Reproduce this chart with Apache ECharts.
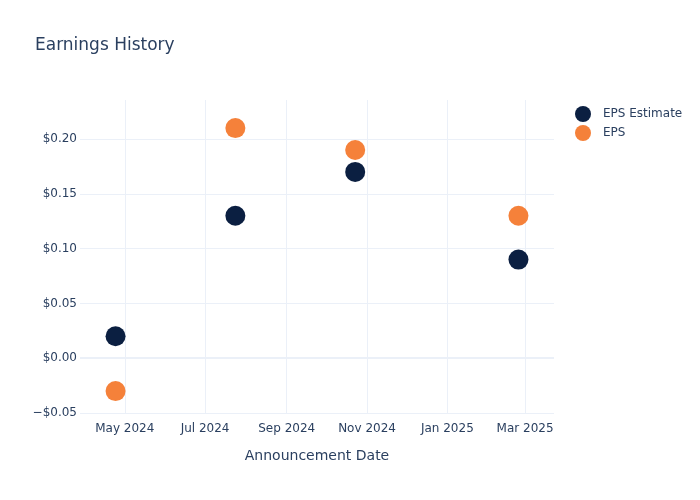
<!DOCTYPE html>
<html>
<head>
<meta charset="utf-8">
<script src="https://cdn.jsdelivr.net/npm/echarts@6/dist/echarts.min.js"></script>
<style>
    html, body { margin: 0; padding: 0; background: #fff; }
    #chart { width: 700px; height: 500px; }
</style>
</head>
<body>
<div id="chart"></div>
<script>
// announcement dates and values
const dates = ['2024-04-24', '2024-07-24', '2024-10-23', '2025-02-24'];
const epsEstimate = [0.02, 0.13, 0.17, 0.09];
const epsActual = [-0.03, 0.21, 0.19, 0.13];
const xTicks = ['2024-05-01', '2024-07-01', '2024-09-01', '2024-11-01', '2025-01-01', '2025-03-01'];
const yTicks = [-0.05, 0, 0.05, 0.10, 0.15, 0.20];
const monthNames = ['Jan', 'Feb', 'Mar', 'Apr', 'May', 'Jun', 'Jul', 'Aug', 'Sep', 'Oct', 'Nov', 'Dec'];

const fontFamily = '"DejaVu Sans", verdana, arial, sans-serif';
const textColor = '#2a3f5f';
const gridColor = '#ebf0f8';

// dates as UTC timestamps so a plain value axis can place them
function ts(s) {
    return Date.parse(s + 'T00:00:00Z');
}

function toPoints(values) {
    return dates.map(function (d, i) { return [ts(d), values[i]]; });
}

let xTickValues = xTicks.map(ts);

let chartDom = document.getElementById('chart');
let chart = echarts.init(chartDom);
window.addEventListener('resize', function () {
    chart.resize();
});

let option = {
    animation: false,
    textStyle: { fontFamily: fontFamily },
    title: {
        text: 'Earnings History',
        left: 35,
        top: 37,
        padding: 0,
        textStyle: { fontFamily: fontFamily, fontSize: 17, fontWeight: 'normal', color: textColor }
    },
    legend: {
        orient: 'vertical',
        left: 575,
        top: 106,
        padding: 0,
        itemWidth: 16,
        itemHeight: 16,
        itemGap: 3,
        icon: 'circle',
        textStyle: { fontFamily: fontFamily, fontSize: 12, color: textColor, padding: [0, 0, 0, 7] },
        data: ['EPS Estimate', 'EPS']
    },
    grid: { left: 80, right: 146, top: 100, bottom: 87, containLabel: false },
    xAxis: {
        type: 'value',
        min: ts('2024-03-28'),
        max: ts('2025-03-23'),
        name: 'Announcement Date',
        nameLocation: 'middle',
        nameGap: 36,
        nameTextStyle: { fontFamily: fontFamily, fontSize: 14, color: textColor },
        axisLine: { show: false },
        axisTick: { show: false, customValues: xTickValues },
        axisLabel: {
            customValues: xTickValues,
            margin: 10,
            fontSize: 12,
            color: textColor,
            fontFamily: fontFamily,
            formatter: function (value) {
                let d = new Date(value);
                return monthNames[d.getUTCMonth()] + ' ' + d.getUTCFullYear();
            }
        },
        splitLine: { show: true, lineStyle: { color: gridColor, width: 1 } }
    },
    yAxis: {
        type: 'value',
        min: -0.05,
        max: 0.2356,
        axisLine: { show: false },
        axisTick: { show: false, customValues: yTicks },
        axisLabel: {
            customValues: yTicks,
            margin: 3,
            fontSize: 12,
            color: textColor,
            fontFamily: fontFamily,
            formatter: function (value) {
                let s = '$' + Math.abs(value).toFixed(2);
                return value < -1e-9 ? '\u2212' + s : s;
            }
        },
        splitLine: { show: true, lineStyle: { color: gridColor, width: 1 } }
    },
    series: [
        {
            name: 'EPS Estimate',
            type: 'scatter',
            symbolSize: 20,
            itemStyle: { color: '#0b1f41', opacity: 1 },
            data: toPoints(epsEstimate),
            z: 3,
            markLine: {
                silent: true,
                symbol: 'none',
                label: { show: false },
                lineStyle: { color: gridColor, width: 2, type: 'solid' },
                data: [{ yAxis: 0 }],
                z: 1
            }
        },
        {
            name: 'EPS',
            type: 'scatter',
            symbolSize: 20,
            itemStyle: { color: '#f5813a', opacity: 1 },
            data: toPoints(epsActual),
            z: 3
        }
    ]
};

option && chart.setOption(option);
</script>
</body>
</html>
